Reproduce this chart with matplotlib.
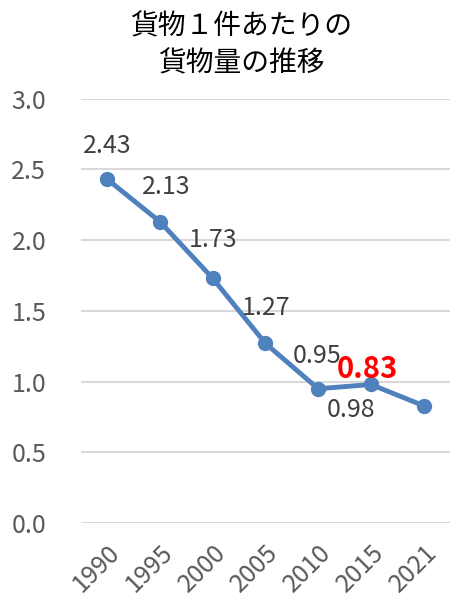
import matplotlib
matplotlib.use("Agg")
import matplotlib.pyplot as plt

plt.rcParams['font.family'] = ['Noto Sans CJK JP', 'DejaVu Sans']

years = ['1990', '1995', '2000', '2005', '2010', '2015', '2021']
values = [2.43, 2.13, 1.73, 1.27, 0.95, 0.98, 0.83]
labels = ['2.43', '2.13', '1.73', '1.27', '0.95', '0.98', '0.83']

# label offsets in pixels (dx, dy) relative to each point
offsets = [(0, 33), (6, 35), (0, 38), (1, 35), (-1, 33), (-20, -26), (-56, 37)]

fig = plt.figure(figsize=(4.55, 6.02), dpi=100)
ax = fig.add_axes([0.178, 0.131, 0.811, 0.705])

x = list(range(len(years)))
ax.plot(x, values, color='#4F81BD', linewidth=3.5, marker='o', markersize=10,
        solid_capstyle='round', zorder=3)

for i, (v, lab) in enumerate(zip(values, labels)):
    dx, dy = offsets[i]
    last = i == len(values) - 1
    ax.annotate(lab, (i, v), xytext=(dx * 0.72, dy * 0.72), textcoords='offset points',
                ha='center', va='center',
                fontsize=21 if last else 18,
                fontweight='bold' if last else 'normal',
                color='#FF0000' if last else '#404040')

ax.set_xlim(-0.5, len(years) - 0.5)
ax.set_ylim(0, 3.0)
ax.set_yticks([0, 0.5, 1.0, 1.5, 2.0, 2.5, 3.0])
ax.set_yticklabels(['0.0', '0.5', '1.0', '1.5', '2.0', '2.5', '3.0'])
ax.set_xticks(x)
ax.set_xticklabels(years, rotation=45, ha='right', rotation_mode='anchor')
ax.tick_params(axis='both', length=0, labelsize=18, labelcolor='#595959')
ax.tick_params(axis='y', pad=25)
ax.tick_params(axis='x', pad=12)
ax.grid(axis='y', color='#D9D9D9', linewidth=1.5)
ax.set_axisbelow(True)
for s in ax.spines.values():
    s.set_visible(False)

fig.text(0.53, 0.925, '貨物１件あたりの\n貨物量の推移', ha='center', va='center',
         fontsize=20, color='#000000', linespacing=1.3)

fig.savefig('out.png', dpi=100)
